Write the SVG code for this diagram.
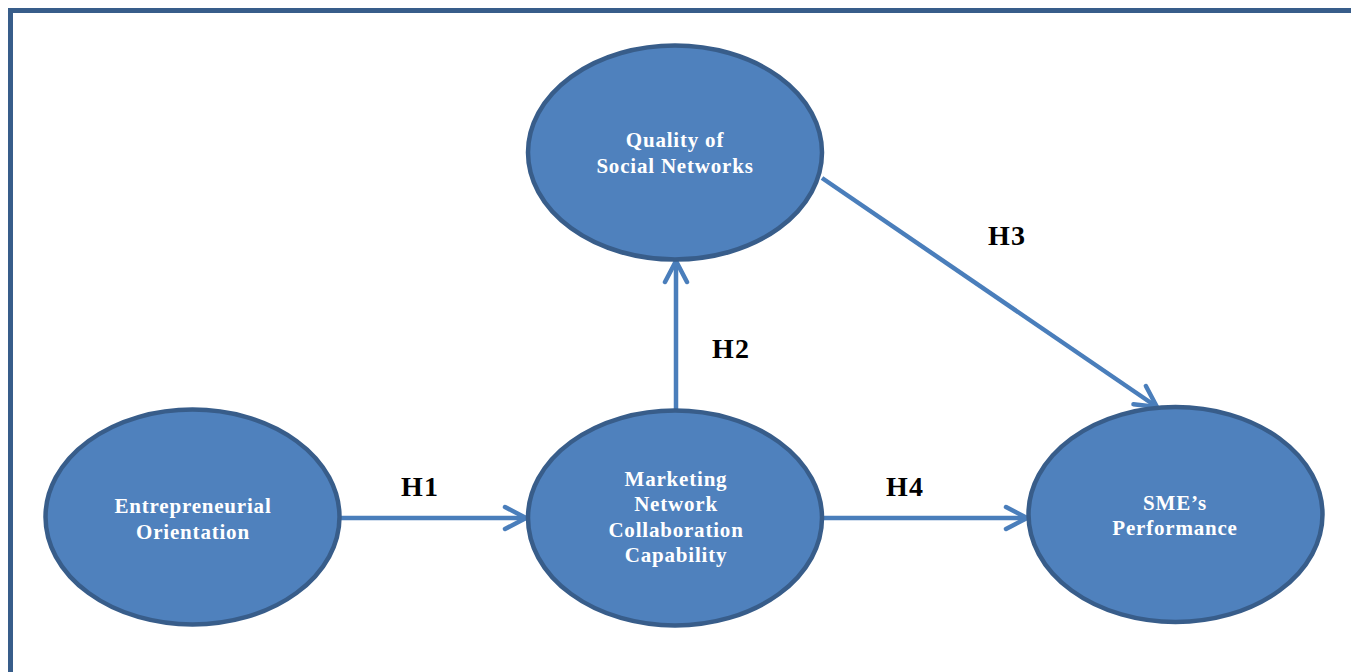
<svg xmlns="http://www.w3.org/2000/svg" width="1351" height="672" viewBox="0 0 1351 672">
<defs>
<style>
.node{fill:#4f81bd;stroke:#385d8a;stroke-width:4.5}
.nt{fill:#ffffff;font-family:"Liberation Serif","Times New Roman",serif;font-weight:bold;font-size:21px;letter-spacing:0.8px;text-anchor:middle}
.lbl{fill:#000000;font-family:"Liberation Serif","Times New Roman",serif;font-weight:bold;font-size:28px;letter-spacing:1px;text-anchor:middle}
.edge{stroke:#4a7ebb;stroke-width:4.5;fill:none}
</style>
<marker id="arr" markerUnits="userSpaceOnUse" markerWidth="28" markerHeight="28" refX="24" refY="14" orient="auto" viewBox="0 0 28 28">
<path d="M3,3 L24,14 L3,25" fill="none" stroke="#4a7ebb" stroke-width="4.5" stroke-linecap="round" stroke-linejoin="round"/>
</marker>
</defs>
<rect width="1351" height="672" fill="#ffffff"/>
<path d="M10.5,672 V10.5 H1351" fill="none" stroke="#385d8a" stroke-width="5"/>
<g id="connectors">
<line class="edge" x1="325" y1="518" x2="526" y2="518" marker-end="url(#arr)"/>
<line class="edge" x1="822" y1="518" x2="1027" y2="518" marker-end="url(#arr)"/>
<line class="edge" x1="676" y1="410" x2="676" y2="261" marker-end="url(#arr)"/>
<line class="edge" x1="822" y1="178" x2="1157" y2="407" marker-end="url(#arr)"/>
</g>
<g id="node-quality">
<ellipse class="node" cx="675" cy="152.5" rx="147" ry="107"/>
<text class="nt" x="675" y="147">Quality of</text>
<text class="nt" x="675" y="173">Social Networks</text>
</g>
<g id="node-eo">
<ellipse class="node" cx="192.5" cy="517" rx="147" ry="107.5"/>
<text class="nt" x="193" y="513">Entrepreneurial</text>
<text class="nt" x="193" y="539">Orientation</text>
</g>
<g id="node-mncc">
<ellipse class="node" cx="675" cy="518" rx="147" ry="107.5"/>
<text class="nt" x="676" y="486">Marketing</text>
<text class="nt" x="676" y="511">Network</text>
<text class="nt" x="676" y="537">Collaboration</text>
<text class="nt" x="676" y="562">Capability</text>
</g>
<g id="node-sme">
<ellipse class="node" cx="1175.5" cy="514.5" rx="147" ry="107.5"/>
<text class="nt" x="1175" y="510">SME’s</text>
<text class="nt" x="1175" y="535">Performance</text>
</g>
<g id="labels">
<text class="lbl" x="420" y="496">H1</text>
<text class="lbl" x="731" y="358">H2</text>
<text class="lbl" x="1007" y="245">H3</text>
<text class="lbl" x="905" y="496">H4</text>
</g>
</svg>
